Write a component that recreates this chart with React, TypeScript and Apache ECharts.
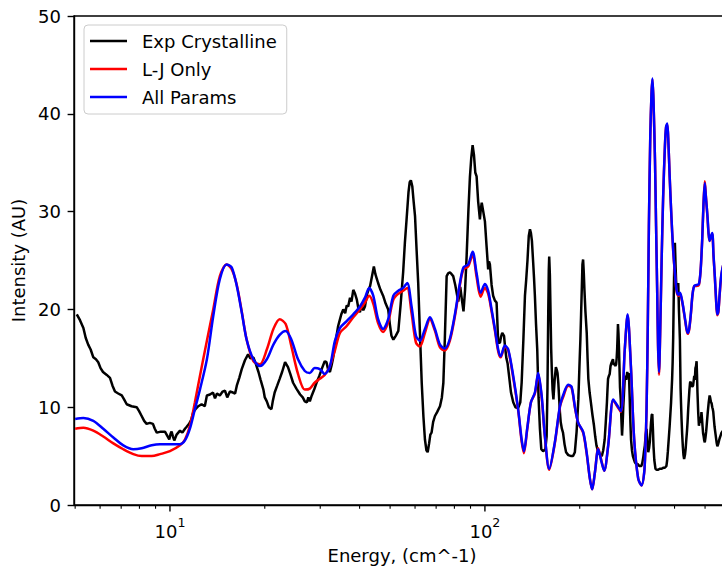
import React, { useEffect, useRef } from "react";
import * as echarts from "echarts";

const FONT = "DejaVu Sans";

const seriesNames = ["Exp Crystalline", "L-J Only", "All Params"];

// [energy (cm^-1), intensity (AU)]
const expSpectrum: number[][] = [
  [5.06, 19.5], [5.18, 18.9], [5.31, 18.1], [5.4, 17.1], [5.5, 16.4], [5.6, 15.9], [5.71, 15.1], [5.82, 14.9],
  [5.92, 14.6], [6.02, 14.0], [6.13, 13.6], [6.3, 13.3], [6.45, 13.0], [6.57, 12.2], [6.69, 11.6], [6.85, 11.4],
  [7.03, 11.2], [7.15, 10.8], [7.29, 10.3], [7.55, 10.1], [7.84, 10.0], [7.98, 9.6], [8.13, 9.1], [8.28, 8.6],
  [8.43, 8.3], [8.63, 8.4], [8.83, 8.3], [8.95, 7.8], [9.08, 7.4], [9.35, 7.5], [9.64, 7.5], [9.8, 7.1],
  [9.95, 6.7], [10.05, 7.3], [10.12, 7.5], [10.22, 7.0], [10.32, 6.6], [10.5, 7.2], [10.76, 7.6], [10.95, 7.4],
  [11.16, 7.8], [11.3, 8.0], [11.5, 8.3], [11.68, 8.7], [11.86, 9.5], [12.05, 9.8], [12.3, 10.1], [12.6, 10.3],
  [12.9, 10.1], [13.1, 11.2], [13.4, 11.3], [13.7, 11.5], [13.9, 10.9], [14.1, 11.4], [14.4, 11.2], [14.7, 11.6],
  [14.95, 11.7], [15.2, 11.0], [15.5, 11.6], [15.85, 11.5], [16.1, 11.4], [16.3, 12.2], [16.6, 13.0], [16.9, 13.9],
  [17.3, 14.8], [17.7, 15.4], [18.0, 15.0], [18.4, 15.1], [18.7, 14.5], [19.1, 13.6], [19.4, 12.8], [19.8, 11.8],
  [20.0, 11.0], [20.3, 10.6], [20.6, 10.0], [21.0, 9.8], [21.2, 10.6], [21.5, 11.5], [21.9, 12.2], [22.3, 12.9],
  [22.7, 13.6], [23.0, 14.2], [23.2, 14.6], [23.5, 14.3], [23.7, 14.1], [24.1, 13.4], [24.6, 12.5], [25.2, 11.9],
  [25.9, 11.3], [26.4, 11.0], [26.8, 10.6], [27.2, 10.5], [27.5, 11.0], [27.8, 10.6], [28.2, 11.2], [28.7, 11.8],
  [29.2, 12.5], [29.8, 13.2], [30.4, 14.0], [31.0, 14.7], [31.4, 14.6], [31.8, 13.8], [32.2, 13.6], [32.6, 14.3],
  [32.9, 14.9], [33.4, 16.2], [33.8, 17.3], [34.2, 18.3], [34.6, 18.9], [35.0, 19.5], [35.5, 20.0], [36.0, 19.6],
  [36.4, 20.4], [36.8, 20.3], [37.3, 21.2], [37.7, 20.8], [38.2, 22.0], [38.7, 21.6], [39.2, 21.0], [39.6, 20.2],
  [40.1, 19.7], [40.6, 20.5], [41.1, 19.9], [41.6, 20.3], [42.2, 21.5], [42.7, 22.0], [43.2, 22.4], [43.8, 23.4],
  [44.4, 24.4], [44.9, 23.6], [45.3, 23.2], [45.8, 22.7], [46.6, 22.0], [47.5, 21.4], [48.4, 20.6], [49.3, 20.0],
  [49.9, 18.5], [50.5, 17.3], [51.2, 16.9], [52.1, 17.3], [53.1, 17.8], [54.0, 20.5], [55.0, 23.8], [55.7, 26.8],
  [56.4, 29.2], [57.2, 32.0], [57.7, 33.0], [58.2, 33.2], [58.8, 32.6], [59.4, 31.0], [60.0, 29.5], [60.7, 26.0],
  [61.4, 22.7], [62.2, 17.5], [63.0, 12.5], [63.8, 9.0], [64.5, 6.7], [65.2, 5.6], [65.8, 5.4], [66.5, 6.3],
  [67.1, 7.2], [67.7, 7.4], [68.5, 8.5], [69.4, 9.1], [70.5, 9.5], [72.0, 10.1], [73.0, 11.0], [73.8, 12.5],
  [74.6, 17.0], [75.6, 23.4], [76.5, 23.7], [77.4, 23.8], [78.4, 23.6], [79.3, 23.4], [80.5, 22.5], [82.3, 20.8],
  [83.5, 22.3], [84.5, 21.0], [85.5, 19.8], [86.5, 22.0], [87.5, 25.5], [88.6, 30.0], [89.6, 33.5], [90.5, 35.5],
  [91.4, 36.8], [92.3, 35.8], [93.2, 34.0], [94.1, 33.6], [95.2, 31.0], [96.4, 29.2], [97.0, 30.2], [97.7, 30.9],
  [98.8, 30.0], [100, 29.0], [101.2, 26.5], [102.4, 24.1], [103.0, 24.9], [103.7, 24.6], [105, 22.5], [106.2, 21.4],
  [107.6, 20.9], [108.9, 20.7], [109.6, 18.5], [110.2, 16.6], [111.6, 16.6], [112.5, 17.2], [113.5, 17.6], [115, 17.3],
  [116, 16.0], [117, 15.0], [118, 14.5], [119, 13.5], [121, 11.5], [123, 10.5], [125, 10.0], [127.5, 9.9],
  [129.5, 10.5], [130.8, 12.5], [132.5, 17.0], [134, 21.4], [135.2, 23.0], [136.5, 25.0], [137.8, 27.5], [139, 28.2],
  [140, 27.8], [141, 27.0], [142.3, 24.8], [143.2, 23.2], [144.1, 21.4], [145.3, 18.5], [146.6, 15.9], [148, 11.0],
  [149.5, 7.8], [151, 5.7], [153, 5.5], [155.5, 5.7], [157, 7.0], [158, 12.0], [158.8, 19.0], [159.5, 24.0],
  [160, 25.4], [160.8, 23.5], [161.5, 20.0], [162.3, 16.0], [163, 14.0], [164, 11.8], [165, 10.8], [166.5, 12.8],
  [168, 14.1], [169.2, 13.8], [170, 13.5], [171, 12.5], [172, 11.0], [173, 9.5], [174, 8.5], [175.5, 7.8],
  [177, 7.4], [179, 6.2], [181, 5.4], [184, 5.1], [188, 5.0], [190.5, 5.0], [193, 5.4], [195.5, 7.5],
  [198, 10.8], [199.5, 14.0], [201, 17.0], [202, 19.5], [203, 22.0], [204, 24.6], [205, 25.1], [206, 23.8],
  [207, 22.0], [208.5, 19.8], [210.5, 17.6], [211.8, 15.0], [213, 12.9], [215, 11.5], [217, 10.5], [219.5, 9.2],
  [222, 8.1], [224, 7.0], [226, 6.1], [228.5, 5.5], [231, 5.2], [235, 5.0], [237.5, 5.6], [240, 6.7],
  [242, 8.5], [244, 10.5], [245, 11.8], [246, 12.9], [247.5, 13.2], [249, 13.4], [250.5, 14.2], [252, 14.5],
  [253.5, 14.7], [255, 14.9], [256.5, 14.3], [258, 14.5], [259.5, 14.2], [261, 14.4], [262, 15.0], [263, 16.0],
  [264, 17.6], [264.5, 18.5], [265.5, 17.5], [266.5, 16.0], [267.5, 14.0], [268.5, 12.0], [270, 10.8], [271.2, 8.8],
  [272.5, 7.1], [273.8, 8.4], [275, 10.0], [276.5, 11.5], [278, 12.9], [279.5, 13.2], [281, 12.8], [283, 13.6],
  [285, 13.2], [286, 13.5], [287, 12.8], [288, 11.3], [289, 9.5], [290, 8.0], [291, 6.7], [293, 5.6],
  [295, 5.0], [297, 4.7], [299, 4.4], [302, 4.2], [305, 4.2], [309, 4.0], [314, 4.0], [316, 4.3],
  [318, 4.8], [320, 5.5], [322, 6.1], [324, 7.2], [326, 7.8], [328, 6.5], [330, 5.4], [332, 5.8],
  [334, 6.5], [335.5, 7.6], [337, 8.5], [338.5, 9.2], [340, 9.3], [341.5, 7.8], [343, 6.0], [345, 4.6],
  [348, 3.7], [351, 3.6], [355, 3.6], [359, 3.7], [364, 3.7], [368, 3.8], [372, 3.8], [375, 3.9],
  [377, 4.0], [379, 4.6], [381, 5.5], [383.5, 6.8], [386, 8.1], [388, 9.3], [390, 10.5], [391.5, 11.7],
  [393, 12.9], [394.5, 14.6], [396, 17.0], [397, 19.5], [398, 22.0], [399.5, 25.0], [401, 26.8], [402, 25.7],
  [403, 24.5], [404.5, 23.0], [406, 22.0], [408, 22.3], [410, 22.2], [411, 22.7], [412, 21.5], [413, 20.0],
  [414.5, 18.5], [416, 16.9], [417, 14.5], [418, 12.0], [419.5, 10.3], [421, 8.8], [423, 7.2], [425, 6.0],
  [427, 5.1], [429, 4.7], [432, 5.2], [434, 5.8], [436, 6.7], [438, 7.5], [440, 8.5], [442, 9.8],
  [444, 10.8], [446, 11.8], [448, 12.5], [450, 12.6], [452, 12.3], [455, 12.1], [458, 12.2], [460, 12.7],
  [462, 13.2], [464, 12.8], [466, 14.0], [468, 14.2], [470, 14.7], [471.5, 13.2], [473, 11.5], [475.5, 9.5],
  [478, 8.1], [480, 8.5], [482, 9.0], [484.5, 8.4], [487, 9.5], [489, 8.8], [491, 8.0], [493, 7.3],
  [495, 7.0], [497, 6.6], [499, 6.4], [501.5, 6.9], [504, 7.5], [507, 8.5], [510, 9.5], [513.5, 10.5],
  [517, 11.2], [519.5, 10.9], [522, 10.5], [524.5, 10.4], [527, 10.0], [529, 9.8], [531, 9.5], [533.5, 8.7],
  [536, 8.0], [540, 7.2], [544, 6.4], [547, 6.0], [550, 6.2], [553, 6.5], [556, 6.8], [560, 7.1],
  [564, 7.4], [570, 7.6], [580, 7.9], [590, 8.0],
];

const ljSpectrum: number[][] = [
  [5.0, 7.8], [5.31, 7.9], [5.71, 7.6], [6.14, 7.0], [6.61, 6.3], [7.11, 5.7], [7.65, 5.2], [8.13, 5.0],
  [8.75, 5.0], [9.3, 5.2], [10.0, 5.5], [10.76, 6.1], [11.16, 6.7], [11.57, 8.1], [12.0, 10.5], [12.45, 13.2],
  [13.1, 16.8], [13.72, 20.0], [14.4, 23.4], [15.13, 24.6], [15.7, 24.1], [16.3, 22.5], [16.9, 19.8], [17.52, 16.9],
  [18.4, 14.7], [19.3, 14.4], [20.3, 15.9], [21.3, 18.0], [22.3, 19.0], [23.3, 18.5], [24.3, 16.2], [25.5, 13.4],
  [26.8, 11.8], [27.8, 11.9], [28.8, 12.5], [29.9, 12.9], [31.0, 13.3], [32.2, 14.2], [33.4, 15.8], [34.65, 17.6],
  [36.4, 18.3], [38.2, 19.2], [40.1, 20.0], [41.6, 20.7], [42.9, 21.4], [44.2, 20.6], [45.8, 18.6], [47.5, 17.7],
  [49.3, 18.7], [51.2, 21.0], [53.1, 21.6], [55.0, 21.9], [56.65, 22.2], [58.5, 19.6], [60.4, 16.6], [62.2, 16.2],
  [64.5, 17.6], [66.9, 19.0], [69.4, 17.8], [72.0, 16.1], [74.6, 15.8], [77.4, 16.8], [80.3, 19.3], [83.3, 22.5],
  [85.5, 24.1], [88.5, 24.4], [91.4, 25.6], [94.1, 23.3], [96.9, 21.3], [100, 22.2], [102.4, 21.6], [105, 19.8],
  [107.6, 17.8], [110.2, 15.7], [112.2, 15.1], [115.7, 16.2], [118.6, 15.8], [123, 13.0], [127.5, 9.7], [130.8, 6.5],
  [133, 5.3], [136.2, 7.7], [140, 10.5], [144.1, 11.4], [147.6, 13.4], [151.4, 11.0], [155, 7.0], [160, 3.6],
  [166.7, 6.3], [173, 10.0], [177, 11.0], [183.9, 12.2], [188.4, 12.0], [193, 10.0], [197.8, 8.4], [205, 7.4],
  [210.3, 5.3], [215.4, 2.7], [219, 1.6], [223.4, 3.3], [229, 5.8], [234.5, 4.5], [239.2, 3.5], [246.3, 6.1],
  [255.4, 10.7], [261.8, 10.2], [270.2, 9.5], [278, 15.9], [283.8, 19.4], [290.7, 14.2], [297.8, 6.7], [306.7, 2.7],
  [314.5, 2.0], [320.4, 3.3], [323, 5.5], [326, 9.8], [329, 18.4], [331.6, 28.4], [335, 37.7], [338, 42.0],
  [340.4, 43.5], [343, 41.2], [346.7, 35.3], [349.5, 28.5], [352.4, 21.7], [354.5, 16.3], [357, 13.3], [360, 17.3],
  [364, 25.0], [368, 31.4], [372.8, 36.6], [376, 38.6], [379.3, 38.9], [382.5, 37.0], [386, 33.6], [391, 29.4],
  [396, 26.0], [401, 23.7], [406, 21.9], [411, 21.4], [416, 21.6], [421, 21.1], [426, 20.2], [433, 18.7],
  [440, 17.5], [445, 17.9], [451, 19.6], [456, 21.4], [462, 22.4], [470, 22.4], [478, 22.5], [484, 24.0],
  [489.6, 27.1], [494, 30.6], [499, 33.1], [503, 31.6], [509, 29.4], [513, 27.7], [517, 27.0], [522, 27.4],
  [527, 27.7], [532, 25.4], [537, 23.3], [542, 20.9], [546.5, 19.4], [551, 19.7], [556, 21.4], [564, 23.6],
  [578, 25.0], [600, 24.0],
];

const allSpectrum: number[][] = [
  [5.0, 8.8], [5.31, 8.9], [5.71, 8.6], [6.14, 7.8], [6.61, 6.9], [7.11, 6.1], [7.65, 5.7], [8.13, 5.8],
  [8.75, 6.1], [9.3, 6.2], [10.0, 6.2], [10.76, 6.2], [11.16, 6.6], [11.57, 7.8], [12.0, 9.8], [12.45, 11.8],
  [13.1, 14.9], [13.72, 19.3], [14.4, 23.1], [15.13, 24.6], [15.7, 24.3], [16.3, 22.4], [16.9, 19.7], [17.52, 16.9],
  [18.4, 14.9], [19.3, 14.2], [20.3, 14.9], [21.3, 16.4], [22.3, 17.4], [23.3, 17.8], [24.3, 16.9], [25.5, 14.9],
  [26.8, 13.7], [27.8, 13.5], [28.8, 14.0], [29.9, 13.9], [31.0, 13.4], [32.2, 14.2], [33.4, 16.8], [34.65, 18.1],
  [36.4, 18.8], [38.2, 19.5], [40.1, 20.3], [41.6, 21.2], [42.9, 22.2], [44.2, 21.4], [45.8, 19.0], [47.5, 18.0],
  [49.3, 19.0], [51.2, 21.4], [53.1, 21.9], [55.0, 22.2], [56.65, 22.7], [58.5, 20.3], [60.4, 17.3], [62.2, 16.8],
  [64.5, 18.0], [66.9, 19.2], [69.4, 18.0], [72.0, 16.4], [74.6, 16.0], [77.4, 17.0], [80.3, 19.5], [83.3, 22.7],
  [85.5, 24.3], [88.5, 24.6], [91.4, 25.9], [94.1, 23.7], [96.9, 21.7], [100, 22.6], [102.4, 21.9], [105, 20.0],
  [107.6, 18.0], [110.2, 15.9], [112.2, 15.2], [115.7, 16.3], [118.6, 15.9], [123, 13.2], [127.5, 9.8], [130.8, 6.7],
  [133, 5.5], [136.2, 7.8], [140, 10.5], [144.1, 11.5], [147.6, 13.5], [151.4, 11.2], [155, 7.1], [160, 3.7],
  [166.7, 6.4], [173, 10.1], [177, 11.2], [183.9, 12.3], [188.4, 12.1], [193, 10.1], [197.8, 8.4], [205, 7.5],
  [210.3, 5.4], [215.4, 2.7], [219, 1.6], [223.4, 3.3], [229, 5.7], [234.5, 4.4], [239.2, 3.5], [246.3, 6.1],
  [255.4, 10.8], [261.8, 10.3], [270.2, 9.6], [278, 15.9], [283.8, 19.5], [290.7, 14.2], [297.8, 6.7], [306.7, 2.7],
  [314.5, 2.0], [320.4, 3.3], [323, 5.5], [326, 9.8], [329, 18.5], [331.6, 28.5], [335, 37.8], [338, 42.1],
  [340.4, 43.6], [343, 41.3], [346.7, 35.3], [349.5, 28.5], [352.4, 21.7], [354.5, 16.5], [357, 13.6], [360, 17.5],
  [364, 25.1], [368, 31.5], [372.8, 36.7], [376, 38.7], [379.3, 39.0], [382.5, 37.0], [386, 33.6], [391, 29.5],
  [396, 26.1], [401, 23.8], [406, 22.0], [411, 21.5], [416, 21.7], [421, 21.2], [426, 20.3], [433, 18.8],
  [440, 17.6], [445, 18.0], [451, 19.7], [456, 21.5], [462, 22.4], [470, 22.5], [478, 22.6], [484, 24.0],
  [489.6, 27.1], [494, 30.5], [499, 32.9], [503, 31.5], [509, 29.5], [513, 27.8], [517, 27.0], [522, 27.5],
  [527, 27.8], [532, 25.5], [537, 23.4], [542, 21.0], [546.5, 19.5], [551, 19.8], [556, 21.5], [564, 23.7],
  [578, 25.0], [600, 24.0],
];

const xMin = 4.958;
const xMax = 600;
const yTicks = { min: 0, max: 50, interval: 10 };
const majorTicks = [10, 100];
const minorTicks = [5, 6, 7, 8, 9, 20, 30, 40, 50, 60, 70, 80, 90, 200, 300, 400, 500, 600];

function tickSeries(name: string, values: number[], len: number, width: number) {
  return {
    name,
    type: "custom",
    silent: true,
    clip: false,
    z: 10,
    data: values.map((v) => [v, 0]),
    encode: { x: 0, y: 1 },
    renderItem: (_params: any, api: any) => {
      const p = api.coord([api.value(0), 0]);
      return {
        type: "line",
        shape: { x1: p[0], y1: p[1], x2: p[0], y2: p[1] + len },
        style: { stroke: "#000", lineWidth: width },
      };
    },
  };
}

export default function App() {
  const ref = useRef<HTMLDivElement>(null);
  useEffect(() => {
    if (!ref.current) return;
    const chart = echarts.init(ref.current, null, { renderer: "svg" });
    chart.setOption({
      animation: false,
      backgroundColor: "#ffffff",
      textStyle: { fontFamily: FONT },
      grid: {
        left: 74,
        right: 10,
        top: 16,
        bottom: 63,
        show: true,
        borderColor: "#000",
        borderWidth: 1.4,
        backgroundColor: "transparent",
      },
      legend: {
        data: seriesNames,
        orient: "vertical",
        left: 84,
        top: 25,
        padding: [7, 10, 8, 6],
        icon: "rect",
        itemWidth: 37,
        itemHeight: 2.6,
        itemGap: 10,
        backgroundColor: "rgba(255,255,255,0.8)",
        borderColor: "#cccccc",
        borderWidth: 1,
        borderRadius: 4,
        textStyle: {
          fontSize: 18,
          lineHeight: 18,
          color: "#000",
          fontFamily: FONT,
          padding: [0, 0, 0, 10],
        },
      },
      xAxis: {
        type: "log",
        logBase: 10,
        min: xMin,
        max: xMax,
        name: "Energy, (cm^-1)",
        nameLocation: "middle",
        nameGap: 41,
        nameTextStyle: { fontSize: 18, color: "#000", fontFamily: FONT },
        axisLine: { show: true, onZero: false, lineStyle: { color: "#000", width: 1.4 } },
        axisTick: { show: false },
        minorTick: { show: false },
        splitLine: { show: false },
        axisLabel: {
          margin: 11,
          color: "#000",
          fontSize: 18,
          fontFamily: FONT,
          formatter: (v: number) => {
            const l = Math.log10(v);
            const r = Math.round(l);
            if (Math.abs(l - r) < 1e-6) return "{b|10}{s|" + r + "}";
            return "";
          },
          rich: {
            b: { fontSize: 18, fontFamily: FONT, color: "#000", lineHeight: 24, verticalAlign: "bottom" },
            s: { fontSize: 12.6, fontFamily: FONT, color: "#000", lineHeight: 19, verticalAlign: "top" },
          },
        },
      },
      yAxis: {
        type: "value",
        min: yTicks.min,
        max: yTicks.max,
        interval: yTicks.interval,
        name: "Intensity (AU)",
        nameLocation: "middle",
        nameGap: 47,
        nameTextStyle: { fontSize: 18, color: "#000", fontFamily: FONT },
        axisLine: { show: true, lineStyle: { color: "#000", width: 1.4 } },
        axisTick: { show: true, length: 6.4, lineStyle: { color: "#000", width: 1.4 } },
        splitLine: { show: false },
        axisLabel: { margin: 13, color: "#000", fontSize: 18, fontFamily: FONT },
      },
      series: [
        {
          name: seriesNames[0],
          type: "line",
          data: expSpectrum,
          symbol: "none",
          lineStyle: { color: "#000000", width: 2.5 },
          itemStyle: { color: "#000000" },
          z: 2,
        },
        {
          name: seriesNames[1],
          type: "line",
          data: ljSpectrum,
          symbol: "none",
          smooth: 0.3,
          lineStyle: { color: "#ff0000", width: 2.5 },
          itemStyle: { color: "#ff0000" },
          z: 3,
        },
        {
          name: seriesNames[2],
          type: "line",
          data: allSpectrum,
          symbol: "none",
          smooth: 0.3,
          lineStyle: { color: "#0000ff", width: 2.5 },
          itemStyle: { color: "#0000ff" },
          z: 4,
        },
        tickSeries("majorTicks", majorTicks, 6.4, 1.4),
        tickSeries("minorTicks", minorTicks, 3.7, 1.1),
      ],
    });
    return () => chart.dispose();
  }, []);
  return (
    <div
      style={{
        position: "fixed",
        left: 0,
        top: 0,
        width: 722,
        height: 569,
        overflow: "hidden",
        background: "#fff",
      }}
    >
      <div ref={ref} style={{ width: 740, height: 569 }} />
    </div>
  );
}
